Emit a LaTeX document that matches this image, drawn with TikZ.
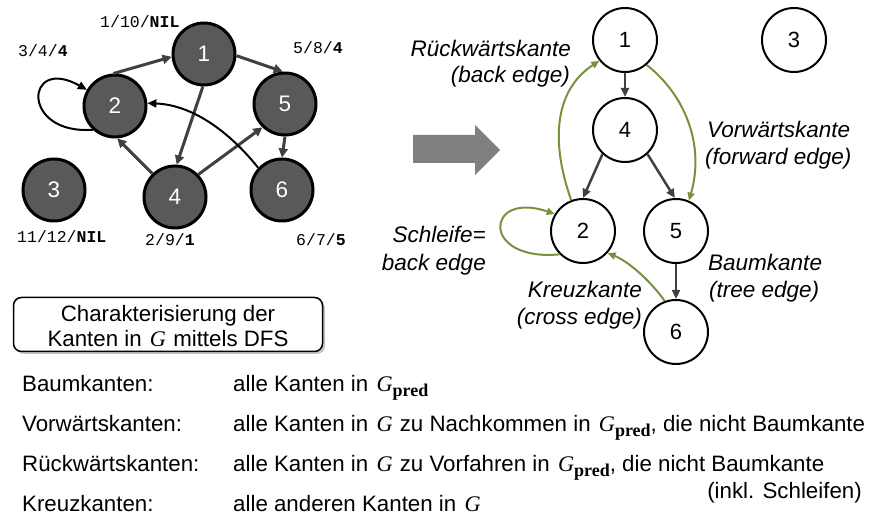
\documentclass[tikz,border=0pt]{standalone}
\usepackage{fontspec}
\setmainfont{Liberation Sans}
\newfontfamily\monof{Liberation Mono}
\newfontfamily\seriff{Liberation Serif}
\usetikzlibrary{arrows.meta,shadows}
\definecolor{egreen}{RGB}{118,146,60}
\definecolor{ngray}{RGB}{89,89,89}
\definecolor{egray}{RGB}{64,64,64}
\definecolor{agray}{RGB}{128,128,128}
\newcommand\Gv{\hspace{2pt}{\seriff\itshape G}\hspace{1pt}}
\newcommand\Gp{\hspace{2pt}{\seriff\itshape G}\raisebox{-0.35ex}{\seriff\bfseries\fontsize{18}{18}\selectfont pred}}
\begin{document}
\begin{tikzpicture}[x=1pt,y=-1pt,
 lnode/.style={circle,draw=black,line width=3pt,fill=ngray,minimum size=62pt,inner sep=0pt,text=white,font=\fontsize{22.5}{22.5}\selectfont},
 rnode/.style={circle,draw=black,line width=2pt,fill=white,minimum size=64pt,inner sep=0pt,font=\fontsize{22}{22}\selectfont},
 ledge/.style={egray,line width=3pt,-{Triangle[length=9pt,width=9pt]}},
 blk/.style={black,line width=2pt,-{Triangle[length=9pt,width=8pt]}},
 gedge/.style={egreen,line width=2pt,-{Triangle[length=8pt,width=7pt]}},
 rtree/.style={egray,line width=2.5pt,-{Triangle[length=9pt,width=8pt]}},
 lab/.style={font=\monof\fontsize{16.5}{16.5}\selectfont,inner sep=0pt,anchor=base west},
 itl/.style={font=\fontsize{22.5}{22.5}\selectfont\itshape,inner sep=0pt},
 txt/.style={font=\fontsize{22.3}{22.3}\selectfont,inner sep=0pt,anchor=base west},
]
\useasboundingbox (0,0) rectangle (879,518);

% ---------- left graph ----------
\node[lnode] (l1) at (204,54) {1};
\node[lnode] (l2) at (115,106) {2};
\node[lnode] (l5) at (285,104) {5};
\node[lnode] (l3) at (54,190) {3};
\node[lnode] (l4) at (175,197) {4};
\node[lnode] (l6) at (282,190) {6};

\draw[ledge] (l2.93) -- (l1.185);
\draw[ledge] (l1.-3) -- (l5.94);
\draw[ledge] (l1.-92) -- (l4.87);
\draw[ledge] (l4.134) -- (l2.-86);
\draw[ledge] (l4.44) -- (l5.226);
\draw[ledge] (l5.south) -- (l6.north);
\draw[blk] (l6.137) .. controls (232,135) and (195,105) .. (l2.5);
\draw[blk] (l2.227) .. controls (20,135) and (25,55) .. (l2.150);

\node[lab] (t1) at (100,28) {1/10/\textbf{NIL}};
\node[lab] (t2) at (18,57) {3/4/\textbf{4}};
\node[lab] (t5) at (293,54) {5/8/\textbf{4}};
\node[lab] (t3) at (17,243) {11/12/\textbf{NIL}};
\node[lab] (t4) at (145,246) {2/9/\textbf{1}};
\node[lab] (t6) at (296,246) {6/7/\textbf{5}};

% ---------- big arrow ----------
\fill[agray] (413,135) -- (475,135) -- (475,125) -- (500,150) -- (475,175) -- (475,163) -- (413,163) -- cycle;

% ---------- right graph ----------
\node[rnode] (r1) at (625,40) {1};
\node[rnode] (r3) at (794,40) {3};
\node[rnode] (r4) at (625,130) {4};
\node[rnode] (r2) at (583,231) {2};
\node[rnode] (r5) at (676,231) {5};
\node[rnode] (r6) at (676,332) {6};

\draw[rtree] (r1.south) -- (r4.north);
\draw[rtree] (r4.-133) -- (r2.90);
\draw[rtree] (r4.-47) -- (r5.92);
\draw[rtree] (r5.south) -- (r6.north);

\draw[gedge] (r2.111) .. controls (550,140) and (555,90) .. (r1.219);
\draw[gedge] (r1.-49) .. controls (685,95) and (705,145) .. (r5.67);
\draw[gedge] (r2.-135) .. controls (480,262) and (485,190) .. (r2.149);
\draw[gedge] (r6.110) .. controls (652,283) and (630,262) .. (r2.-42);

\node[itl,anchor=base east] (k1) at (571,57) {Rückwärtskante};
\node[itl,anchor=base east] (k2) at (570,83) {(back edge)};
\node[itl,anchor=base west] (k3) at (707,138) {Vorwärtskante};
\node[itl,anchor=base west] (k4) at (705,165) {(forward edge)};
\node[itl,anchor=base east] (k5) at (486,243) {Schleife=};
\node[itl,anchor=base east] (k6) at (486,271) {back edge};
\node[itl,anchor=base east] (k7) at (642,298) {Kreuzkante};
\node[itl,anchor=base east] (k8) at (642,325) {(cross edge)};
\node[itl,anchor=base west] (k9) at (708,271) {Baumkante};
\node[itl,anchor=base west] (k10) at (709,298) {(tree edge)};

% ---------- box ----------
\node[draw=black,line width=1.5pt,rounded corners=8pt,fill=white,
      drop shadow={shadow xshift=2.5pt,shadow yshift=-2.5pt,fill=black!45},
      minimum width=309pt,minimum height=54pt,inner sep=0pt] (box) at (168,324.5) {};
\node[txt,anchor=base] (bx1) at (168,322) {Charakterisierung der};
\node[txt,anchor=base] (bx2) at (168,347) {Kanten in \Gv{} mittels DFS};

% ---------- bottom text ----------
\node[txt] (b1) at (22,392) {Baumkanten:};
\node[txt] (b2) at (22,432) {Vorwärtskanten:};
\node[txt] (b3) at (22,472) {Rückwärtskanten:};
\node[txt] (b4) at (22,512) {Kreuzkanten:};
\node[txt] (c1) at (233,392) {alle Kanten in \Gp};
\node[txt] (c2) at (233,432) {alle Kanten in \Gv{} zu Nachkommen in \Gp, die nicht Baumkante};
\node[txt] (c3) at (233,472) {alle Kanten in \Gv{} zu Vorfahren in \Gp, die nicht Baumkante};
\node[txt,anchor=base east] (c3b) at (862,499) {(inkl. Schleifen)};
\node[txt] (c4) at (233,512) {alle anderen Kanten in \Gv};
\end{tikzpicture}
\end{document}
